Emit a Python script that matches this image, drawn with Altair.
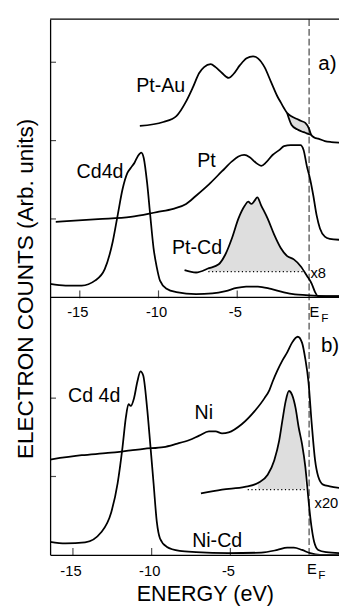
import altair as alt
import pandas as pd

FONT = "Liberation Sans"

# ---------------- data ----------------
# energies in eV (relative to E_F), counts in arbitrary units above each panel's baseline

# panel a)
pt_au_e = [-10.75, -9.26, -8.43, -7.81, -7.39, -6.98, -6.67, -6.25, -5.94, -5.53, -5.11, -4.80,
           -4.39, -3.97, -3.56, -3.25, -2.83, -2.42, -2.01, -1.80, -1.59, -1.39, -1.10, -0.76,
           -0.50, -0.24, 0.00, 0.13, 0.35, 0.58, 1.00, 1.40, 1.95]
pt_au_c = [175, 179, 185, 200, 214, 229, 235, 238, 235, 229, 224, 228,
           237, 244, 246, 244, 235, 220, 205, 199, 193, 188, 184.5, 182,
           180, 178, 172, 166, 163, 162, 159.5, 158.5, 158]

lens_e = [-1.39, -1.11, -0.76, -0.50, -0.24, 0.00, 0.13]
lens_upper = [188, 184.5, 182, 180, 178, 172, 166]
lens_lower = [188, 176, 171.5, 169.5, 168, 166.5, 166]

pt_e = [-16.09, -13.40, -11.33, -9.67, -8.63, -7.81, -7.18, -6.36, -5.53, -4.90, -4.49, -4.12,
        -3.77, -3.35, -3.04, -2.73, -2.32, -1.90, -1.59, -1.17, -0.55, -0.35, -0.14, 0.07,
        0.27, 0.48, 0.69, 1.00, 1.31, 1.95]
pt_c = [77, 79.7, 82, 87, 90.3, 95.3, 103.7, 115.3, 128.7, 138.7, 143.7, 145.3,
        143, 137, 134.3, 137.7, 145.3, 150.3, 154.3, 155.3, 155.3, 150.3, 133.7, 120.3,
        103.7, 83.7, 70.3, 62, 59.7, 58.7]

cd_a_e = [-16.45, -15.47, -14.44, -13.60, -12.98, -12.47, -12.16, -11.85, -11.54, -11.33, -11.08,
          -10.87, -10.66, -10.50, -10.29, -10.09, -9.88, -9.67, -9.47, -9.05, -8.43, -7.18, -6.15,
          -5.30, -4.60, -4.00, -3.25, -2.42, -1.60, -0.90, -0.20, 0.50, 1.95]
cd_a_c = [13.7, 12, 12, 17, 28.7, 57, 83.7, 110.3, 127, 132, 137.7,
          144.3, 147.7, 142, 117, 83.7, 50.3, 30.3, 17, 8.7, 5.3, 3.3, 4,
          6.3, 9.5, 10.8, 11, 8.5, 5, 3, 2.2, 1.5, 1.2]

ptcd_e = [-7.91, -7.18, -6.36, -5.74, -5.32, -4.90, -4.49, -4.08, -3.87, -3.66, -3.46, -3.29,
          -3.04, -2.63, -2.21, -1.80, -1.39, -0.97, -0.55, -0.14, 0.17, 0.38, 0.58, 1.00, 1.95]
ptcd_c = [27.7, 25.3, 29.7, 33.7, 43.7, 60.3, 80.3, 93.7, 97.7, 95.3, 98.7, 102,
          93.7, 80.3, 63.7, 50.3, 42, 38.7, 32, 22, 13.7, 5.3, 1, 1, 1]
ptcd_base = 26.3
ptcd_range = [-6.4, -0.3]

# panel b)
ni_e = [-16.45, -14.44, -12.78, -11.33, -10.50, -9.25, -8.43, -7.60, -6.98, -6.36, -5.94, -5.53,
        -5.11, -4.28, -3.46, -2.83, -2.52, -2.32, -2.01, -1.70, -1.39, -1.08, -0.72, -0.45,
        -0.24, -0.04, 0.17, 0.38, 0.58, 0.89, 1.31, 1.95]
ni_c = [97.3, 101.7, 104, 106.7, 108.3, 110, 113.3, 117.3, 121.7, 126, 126, 124,
        125, 133.3, 146.7, 160, 168.3, 176.7, 188.3, 198.3, 206.7, 216.7, 222.7, 216.7,
        200, 176.7, 133.3, 96.7, 80, 71.7, 70, 68.3]

cd_b_e = [-16.45, -15.47, -14.23, -13.19, -12.57, -12.16, -11.85, -11.64, -11.47, -11.33, -11.12,
          -10.91, -10.71, -10.54, -10.29, -10.09, -9.88, -9.67, -9.47, -9.05, -8.22, -7.18, -5.11,
          -3.04, -2.01, -1.39, -0.97, -0.45, 0.07, 0.69, 1.95]
cd_b_c = [13.3, 11.7, 12.7, 23.3, 43.3, 73.3, 110, 140, 154, 152, 160,
          176.7, 187.3, 183.3, 150, 113.3, 73.3, 33.3, 16.7, 8.3, 4, 2.7, 1.7,
          2.3, 5, 7.3, 7.3, 5, 1.7, 0, 0]

nicd_e = [-6.87, -5.53, -4.08, -3.25, -2.63, -2.21, -1.90, -1.70, -1.49, -1.28, -1.08, -0.86,
          -0.66, -0.45, -0.24, -0.10, 0.02, 0.17, 0.32, 0.58, 1.10, 1.95]
nicd_c = [62.7, 66.7, 69.3, 73.3, 81.7, 96.7, 116.7, 136.7, 156.7, 167.3, 163.3, 150,
          130, 113.3, 90, 66.7, 46.7, 26.7, 13.3, 5, 2.7, 1.7]
nicd_base = 66.7
nicd_range = [-3.9, -0.12]

# axes / ticks
x_ticks = [-15, -10, -5]
x_tick_labels = ["-15", "-10", "-5"]
y_ticks_a = [80, 160, 240]
y_ticks_b = [80, 160]

# ---------------- layout constants ----------------
PANEL_A = 263      # vertical offset of panel a baseline
Y_TOP = 547
X_MIN, X_MAX = -16.45, 1.9


def curve(name, e, c, off):
    return pd.DataFrame({"E": e, "h": [v + off for v in c], "curve": name, "i": list(range(len(e)))})


curves = pd.concat([
    curve("Pt-Au", pt_au_e, pt_au_c, PANEL_A),
    curve("Pt-Au lower", lens_e, lens_lower, PANEL_A),
    curve("Pt", pt_e, pt_c, PANEL_A),
    curve("Cd4d a", cd_a_e, cd_a_c, PANEL_A),
    curve("Pt-Cd", ptcd_e, ptcd_c, PANEL_A),
    curve("Ni", ni_e, ni_c, 0),
    curve("Cd4d b", cd_b_e, cd_b_c, 0),
    curve("Ni-Cd", nicd_e, nicd_c, 0),
], ignore_index=True)


def shade(name, e, c, base, rng, off):
    rows = [(x, v + off, base + off) for x, v in zip(e, c) if rng[0] <= x <= rng[1]]
    return pd.DataFrame({"E": [r[0] for r in rows], "h": [r[1] for r in rows],
                         "h2": [r[2] for r in rows], "curve": name})


shades = pd.concat([
    shade("Pt-Cd", ptcd_e, ptcd_c, ptcd_base, ptcd_range, PANEL_A),
    shade("Ni-Cd", nicd_e, nicd_c, nicd_base, nicd_range, 0),
    pd.DataFrame({"E": lens_e, "h": [v + PANEL_A for v in lens_upper],
                  "h2": [v + PANEL_A for v in lens_lower], "curve": "lens"}),
], ignore_index=True)

baselines = pd.DataFrame({
    "E": [ptcd_range[0], nicd_range[0]],
    "E2": [ptcd_range[1], nicd_range[1]],
    "h": [ptcd_base + PANEL_A, nicd_base],
})

xs = alt.Scale(domain=[X_MIN, X_MAX], nice=False, zero=False)
ys = alt.Scale(domain=[0, Y_TOP], nice=False, zero=False)

x_axis = alt.Axis(title="ENERGY (eV)", labels=False, ticks=False, grid=False,
                  domainColor="black", domainWidth=1.3,
                  titleFont=FONT, titleFontSize=22, titleFontWeight="normal", titleColor="black",
                  titleX=158, titleY=47, titleBaseline="alphabetic")
y_axis = alt.Axis(title="ELECTRON COUNTS (Arb. units)", labels=False, ticks=False, grid=False,
                  domainColor="black", domainWidth=1.3,
                  titleFont=FONT, titleFontSize=23, titleFontWeight="normal", titleColor="black",
                  titleX=-18, titleY=275, titleBaseline="alphabetic", titleAngle=270)

X = alt.X("E:Q", scale=xs, axis=x_axis)
Y = alt.Y("h:Q", scale=ys, axis=y_axis)

shade_layer = alt.Chart(shades).mark_area(color="#dedede", opacity=1, clip=True).encode(
    X, Y, y2="h2:Q", detail="curve:N")

base_layer = alt.Chart(baselines).mark_rule(color="black", strokeDash=[1.2, 2.6], strokeWidth=1.3).encode(
    X, alt.X2("E2:Q"), Y)

line_layer = alt.Chart(curves).mark_line(color="black", strokeWidth=1.8, clip=True,
                                         interpolate="monotone").encode(
    X, Y, detail="curve:N", order="i:Q")

ef_layer = alt.Chart(pd.DataFrame({"E": [0.0]})).mark_rule(
    color="#333333", strokeDash=[7, 3], strokeWidth=1.1).encode(X)

frame_layer = alt.Chart(pd.DataFrame({"h": [Y_TOP, PANEL_A]})).mark_rule(
    color="black", strokeWidth=1.3).encode(Y)

xt_b = alt.Chart(pd.DataFrame({"E": x_ticks, "h": [0] * 3})).mark_tick(
    orient="vertical", size=8, thickness=1.2, color="black", yOffset=-3).encode(X, Y)
xt_a = alt.Chart(pd.DataFrame({"E": x_ticks, "h": [PANEL_A] * 3})).mark_tick(
    orient="vertical", size=8, thickness=1.2, color="black", yOffset=-3, xOffset=7).encode(X, Y)

yt = alt.Chart(pd.DataFrame({"E": [X_MIN] * 5,
                             "h": y_ticks_b + [v + PANEL_A for v in y_ticks_a]})).mark_tick(
    orient="horizontal", size=6, thickness=1.2, color="black", xOffset=3).encode(X, Y)

# tick labels
tl_b = alt.Chart(pd.DataFrame({"E": x_ticks, "h": [-21.7] * 3, "t": x_tick_labels})).mark_text(
    font=FONT, fontSize=15, color="black", align="center", baseline="alphabetic", dx=-2).encode(
    X, Y, text="t:N")
tl_a = alt.Chart(pd.DataFrame({"E": x_ticks, "h": [243.3] * 3, "t": x_tick_labels})).mark_text(
    font=FONT, fontSize=15, color="black", align="center", baseline="alphabetic", dx=5).encode(
    X, Y, text="t:N")

# curve labels
lab_names = ["Pt-Au", "Pt", "Cd4d", "Pt-Cd", "Cd 4d", "Ni", "Ni-Cd"]
lab_e = [-9.43, -6.52, -13.28, -7.12, -13.65, -6.69, -5.84]
lab_h = [473, 396, 385, 307, 156, 139, 8]
labels = alt.Chart(pd.DataFrame({"E": lab_e, "h": lab_h, "t": lab_names})).mark_text(
    font=FONT, fontSize=20, color="black", align="center", baseline="alphabetic").encode(
    X, Y, text="t:N")

tag_names = ["a)", "b)"]
tags = alt.Chart(pd.DataFrame({"E": [0.58, 0.75], "h": [495, 207], "t": tag_names})).mark_text(
    font=FONT, fontSize=21, color="black", align="left", baseline="alphabetic").encode(
    X, Y, text="t:N")

mult_names = ["x8", "x20", "E", "E"]
mults = alt.Chart(pd.DataFrame({"E": [0.09, 0.35, 0.02, -0.14], "h": [283, 48, 243.3, -19.3],
                                "t": mult_names})).mark_text(
    font=FONT, fontSize=15, color="black", align="left", baseline="alphabetic").encode(
    X, Y, text="t:N")
subs = alt.Chart(pd.DataFrame({"E": [0.77, 0.58], "h": [237.3, -25], "t": ["F", "F"]})).mark_text(
    font=FONT, fontSize=12, color="black", align="left", baseline="alphabetic").encode(
    X, Y, text="t:N")

chart = alt.layer(
    shade_layer, base_layer, ef_layer, frame_layer, line_layer,
    xt_a, xt_b, yt, tl_a, tl_b, labels, tags, mults, subs
).properties(
    width=295, height=547,
    autosize=alt.AutoSizeParams(type="none"),
    padding={"left": 43, "top": 5, "right": 0, "bottom": 53},
    background="white",
).configure_view(stroke=None)

chart.save("out.html", embed_options={"renderer": "svg", "actions": False})
